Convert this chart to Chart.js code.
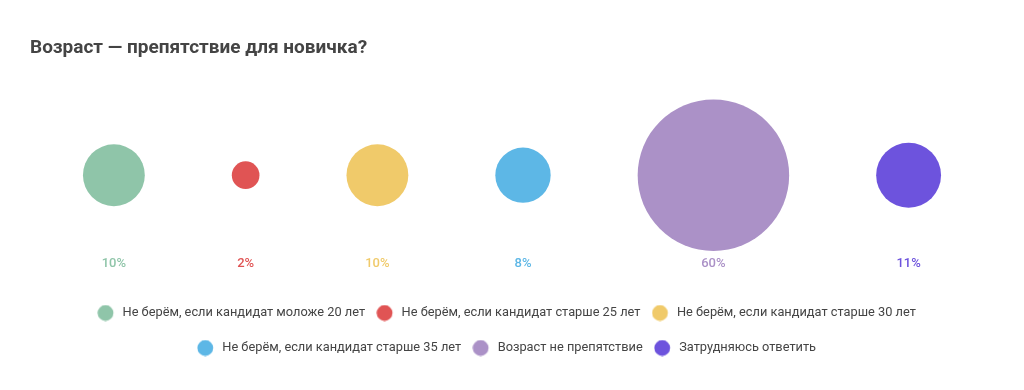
<!DOCTYPE html>
<html>
<head>
<meta charset="utf-8">
<script src="https://cdn.jsdelivr.net/npm/chart.js@4.4.1/dist/chart.umd.min.js"></script>
<style>
  html, body { margin: 0; padding: 0; background: #ffffff; }
  #wrap { width: 1024px; height: 390px; position: relative; }
</style>
</head>
<body>
<div id="wrap"><canvas id="c"></canvas></div>
<script>
// ---- data ----
const categories = [
  'Не берём, если кандидат моложе 20 лет',
  'Не берём, если кандидат старше 25 лет',
  'Не берём, если кандидат старше 30 лет',
  'Не берём, если кандидат старше 35 лет',
  'Возраст не препятствие',
  'Затрудняюсь ответить'
];
const shares = [10, 2, 10, 8, 60, 11];
const percentLabels = ['10%', '2%', '10%', '8%', '60%', '11%'];
const titleText = 'Возраст — препятствие для новичка?';

// ---- styles ----
const colors = ['#8fc5a9', '#e05454', '#f0ca6a', '#5db7e6', '#ab91c7', '#6d53dd'];
const RADIUS_K = 9.78;   // px per sqrt(percent)
const GAP = 87;          // px between neighbouring bubble edges

// bubble area proportional to share; bubbles packed left-to-right, centred
const radii = shares.map(v => RADIUS_K * Math.sqrt(v));
const total = radii.reduce((s, r) => s + 2 * r, 0) + GAP * (radii.length - 1);
const xs = [];
let cur = -total / 2;
radii.forEach(r => { xs.push(cur + r); cur += 2 * r + GAP; });

function legendDot(color) {
  const c = document.createElement('canvas');
  c.width = 30; c.height = 17;
  const g = c.getContext('2d');
  g.fillStyle = color;
  g.beginPath();
  g.arc(8.35, 8.5, 7.9, 0, Math.PI * 2);
  g.fill();
  return c;
}
const dots = colors.map(legendDot);

const percentPlugin = {
  id: 'percentLabels',
  afterDatasetsDraw(chart) {
    const ctx = chart.ctx;
    ctx.save();
    ctx.font = '500 13px Roboto';
    ctx.textAlign = 'center';
    ctx.textBaseline = 'middle';
    chart.data.datasets.forEach((ds, i) => {
      const el = chart.getDatasetMeta(i).data[0];
      ctx.fillStyle = colors[i];
      ctx.fillText(percentLabels[i], el.x, chart.chartArea.bottom - 20.5);
    });
    ctx.restore();
  }
};

new Chart(document.getElementById('c'), {
  type: 'bubble',
  data: {
    datasets: categories.map((c, i) => ({
      label: c,
      data: [{ x: xs[i], y: 0, r: radii[i] }],
      backgroundColor: colors[i],
      borderWidth: 0,
      hoverRadius: 0,
      clip: false
    }))
  },
  options: {
    responsive: true,
    maintainAspectRatio: false,
    animation: false,
    events: [],
    layout: { autoPadding: false, padding: { left: 30, right: 30, top: 0, bottom: 25.6 } },
    scales: {
      x: { type: 'linear', display: false, min: -482, max: 482 },
      y: { type: 'linear', display: false, min: -1, max: 1 }
    },
    plugins: {
      tooltip: { enabled: false },
      title: {
        display: true,
        text: titleText,
        align: 'start',
        color: '#444444',
        font: { family: 'Roboto', size: 19, weight: 'bold' },
        padding: { top: 37.1, bottom: 6.1 }
      },
      legend: {
        display: true,
        position: 'bottom',
        labels: {
          usePointStyle: true,
          boxWidth: 7.9,
          boxHeight: 12.8,
          padding: 22.2,
          color: '#444444',
          font: { family: 'Roboto', size: 12.8 },
          generateLabels(chart) {
            const items = Chart.defaults.plugins.legend.labels.generateLabels(chart);
            items.forEach(it => { it.pointStyle = dots[it.datasetIndex]; it.fontColor = '#444444'; });
            return items;
          }
        }
      }
    }
  },
  plugins: [percentPlugin]
});
</script>
</body>
</html>
